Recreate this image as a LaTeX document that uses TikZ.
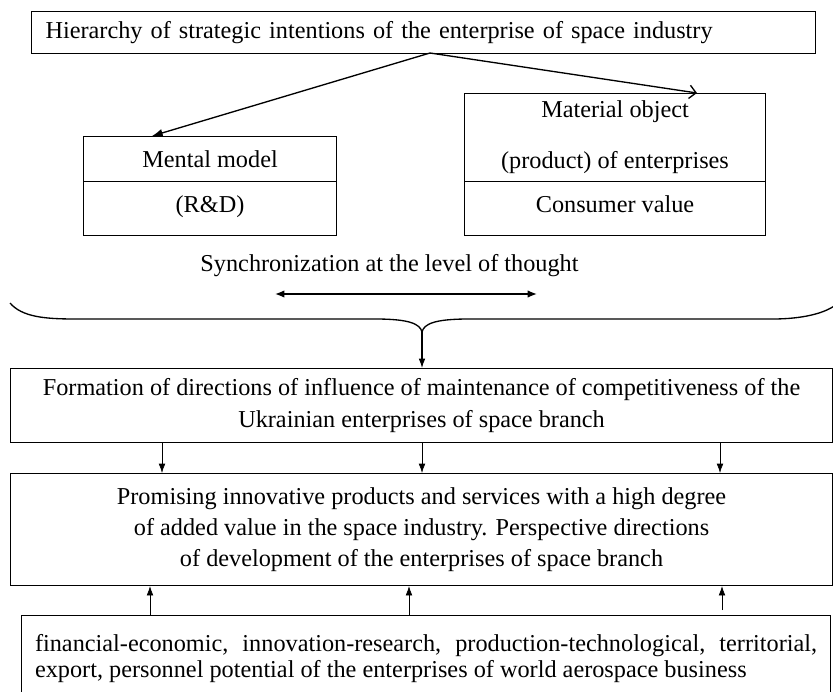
\documentclass[tikz,border=0pt]{standalone}
\usepackage{fontspec}
\setmainfont{Liberation Serif}
\usetikzlibrary{arrows.meta}
\begin{document}
\begin{tikzpicture}[x=0.75pt,y=-0.75pt,
  font=\fontsize{18.2pt}{23.25pt}\selectfont,
  box/.style={draw,line width=0.8pt,rectangle,inner sep=0pt,anchor=north west,align=center},
  lowpart/.style={box,text depth=6pt},
  thinarr/.style={line width=0.5pt,-{Latex[length=7pt,width=5pt]}},
  toparr/.style={line width=1pt},
]
\clip (0,0) rectangle (833,692);
% top box
\node[box,minimum width=588pt,minimum height=31.5pt,inner xsep=10.5pt,text width=567pt,align=left] (top) at (31,11)
  {Hierarchy of strategic intentions of the enterprise of space industry};
% mental model
\node[box,minimum width=189.75pt,minimum height=33.75pt] (mentA) at (83,136) {Mental model};
\node[lowpart,minimum width=189.75pt,minimum height=40.5pt] (mentB) at (83,181) {(R\&D)};
% material object
\node[box,minimum width=225.75pt,minimum height=66pt] (matA) at (464,93)
  {Material object\\[15pt](product) of enterprises};
\node[lowpart,minimum width=225.75pt,minimum height=40.5pt] (matB) at (464,181) {Consumer value};
% arrows from top
\coordinate (src) at (430,53);
\coordinate (xl) at (152,0);
\coordinate (xr) at (697,0);
\draw[toparr,-{Latex[length=8pt,width=6pt]}] (src) -- (mentA.north -| xl);
\draw[toparr,-{Straight Barb[length=5pt,width=10pt]}] (src) -- (matA.north -| xr);
% synchronization
\node[anchor=base] (sync) at (389.5,272) {Synchronization at the level of thought};
\coordinate (dl) at (275,294);
\coordinate (dr) at (537,294);
\draw[line width=1pt,{Latex[length=7pt,width=5.5pt]}-{Latex[length=7pt,width=5.5pt]}] (dl) -- (dr);
% brace
\coordinate (btip) at (422,332);
\draw[line width=1pt] (10,303) .. controls (22,317) and (45,319) .. (75,319) -- (375,319)
  .. controls (410,319) and (420,324) .. (btip)
  .. controls (424,324) and (434,319) .. (469,319) -- (773,319)
  .. controls (800,319) and (826,314) .. (838,303);
% formation box
\node[box,minimum width=616.5pt,minimum height=55.5pt,font=\fontsize{18.2pt}{24pt}\selectfont] (form) at (10,368)
  {Formation of directions of influence of maintenance of competitiveness of the\\Ukrainian enterprises of space branch};
\draw[line width=0.8pt,-{Latex[length=7pt,width=5pt]}] (btip) -- (btip |- form.north);
% promising box
\node[box,minimum width=616.5pt,minimum height=84pt] (prom) at (10,473)
  {Promising innovative products and services with a high degree\\of added value in the space industry. Perspective directions\\of development of the enterprises of space branch};
\coordinate (a1) at (162,0);
\coordinate (a2) at (422,0);
\coordinate (a3) at (720,0);
\draw[thinarr] (form.south -| a1) -- (prom.north -| a1);
\draw[thinarr] (form.south -| a2) -- (prom.north -| a2);
\draw[thinarr] (form.south -| a3) -- (prom.north -| a3);
% bottom box
\node[box,minimum width=606.75pt,minimum height=64pt,inner xsep=10.125pt,text width=586.5pt,align=justify,font=\fontsize{18.2pt}{19.5pt}\selectfont] (bot) at (21,615)
  {financial-economic, innovation-research, production-technological, territorial,\linebreak export, personnel potential of the enterprises of world aerospace business\par\vspace*{6pt}};
\coordinate (b1) at (150,0);
\coordinate (b2) at (409,0);
\coordinate (b3) at (722,610);
\draw[thinarr] (bot.north -| b1) -- (prom.south -| b1);
\draw[thinarr] (bot.north -| b2) -- (prom.south -| b2);
\draw[thinarr] (b3) -- (prom.south -| b3);
\end{tikzpicture}
\end{document}
